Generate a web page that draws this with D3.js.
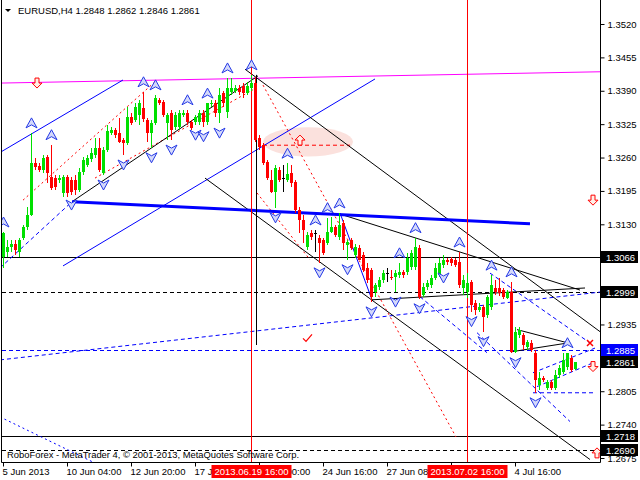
<!DOCTYPE html>
<html><head><meta charset="utf-8">
<script src="https://cdn.jsdelivr.net/npm/d3@7"></script>
<style>
body{margin:0;background:#fff}
svg{display:block}
text{font-family:"Liberation Sans",Arial,sans-serif;font-size:9.5px}
</style>
</head><body>
<svg id="c" width="640" height="480"></svg>
<script>
// ---------- data ----------
const symbolTitle = "EURUSD,H4  1.2848 1.2862 1.2846 1.2861";
const copyright = "RoboForex - MetaTrader 4, \u00A9 2001-2013, MetaQuotes Software Corp.";
const opens = [1.3066,1.3076,1.3086,1.3092,1.3076,1.3104,1.3125,1.3148,1.3249,1.3244,
1.3236,1.3261,1.3222,1.3220,1.3216,1.3191,1.3222,1.3216,1.3216,1.3197,
1.3232,1.3246,1.3257,1.3265,1.3279,1.3230,1.3275,1.3308,1.3314,1.3308,
1.3294,1.3288,1.3339,1.3333,1.3343,1.3356,1.3333,1.3308,1.3327,1.3372,
1.3368,1.3327,1.3347,1.3320,1.3320,1.3343,1.3347,1.3329,1.3329,1.3329,
1.3347,1.3329,1.3364,1.3366,1.3347,1.3386,1.3349,1.3388,1.3390,1.3395,
1.3399,1.3386,1.3395,1.3405,1.3298,1.3285,1.3251,1.3216,1.3193,1.3236,
1.3220,1.3216,1.3230,1.3212,1.3158,1.3139,1.3086,1.3113,1.3113,1.3104,
1.3100,1.3094,1.3115,1.3125,1.3105,1.3133,1.3090,1.3100,1.3070,1.3084,
1.3070,1.3045,1.3041,1.2998,1.3008,1.3022,1.3036,1.3028,1.3028,1.3031,
1.3037,1.3037,1.3047,1.3047,1.3084,1.2993,1.3008,1.3012,1.3026,1.3031,
1.3051,1.3061,1.3063,1.3061,1.3057,1.3006,1.2998,1.3018,1.2977,1.2963,
1.2969,1.2954,1.2969,1.3006,1.3006,1.3002,1.2987,1.2998,1.2882,1.2915,
1.2915,1.2891,1.2899,1.2880,1.2817,1.2831,1.2812,1.2823,1.2812,1.2837,
1.2843,1.2853,1.2870,1.2848];
const highs = [1.3115,1.3100,1.3100,1.3100,1.3104,1.3129,1.3164,1.3308,1.3259,1.3249,
1.3265,1.3265,1.3285,1.3226,1.3226,1.3226,1.3226,1.3222,1.3226,1.3240,
1.3261,1.3265,1.3279,1.3298,1.3298,1.3281,1.3323,1.3320,1.3318,1.3337,
1.3298,1.3358,1.3347,1.3366,1.3372,1.3388,1.3337,1.3333,1.3382,1.3376,
1.3372,1.3347,1.3353,1.3349,1.3353,1.3353,1.3353,1.3333,1.3343,1.3353,
1.3353,1.3366,1.3372,1.3372,1.3395,1.3390,1.3415,1.3415,1.3401,1.3401,
1.3405,1.3407,1.3421,1.3417,1.3304,1.3288,1.3255,1.3236,1.3246,1.3242,
1.3246,1.3249,1.3246,1.3216,1.3164,1.3148,1.3115,1.3119,1.3119,1.3109,
1.3104,1.3143,1.3145,1.3129,1.3152,1.3139,1.3100,1.3104,1.3092,1.3090,
1.3076,1.3055,1.3045,1.3016,1.3028,1.3041,1.3045,1.3041,1.3041,1.3055,
1.3041,1.3074,1.3080,1.3104,1.3090,1.3016,1.3022,1.3031,1.3055,1.3065,
1.3070,1.3065,1.3066,1.3065,1.3076,1.3031,1.3035,1.3022,1.2983,1.2977,
1.2973,1.2993,1.3031,1.3022,1.3026,1.3006,1.3002,1.3018,1.2930,1.2930,
1.2919,1.2905,1.2905,1.2886,1.2843,1.2835,1.2827,1.2827,1.2847,1.2857,
1.2880,1.2880,1.2876,1.2862];
const lows = [1.3045,1.3066,1.3076,1.3070,1.3066,1.3100,1.3119,1.3147,1.3236,1.3232,
1.3230,1.3210,1.3197,1.3197,1.3210,1.3183,1.3183,1.3187,1.3187,1.3193,
1.3226,1.3242,1.3251,1.3259,1.3232,1.3226,1.3271,1.3304,1.3298,1.3288,
1.3265,1.3285,1.3323,1.3329,1.3323,1.3329,1.3290,1.3279,1.3323,1.3362,
1.3339,1.3294,1.3294,1.3314,1.3314,1.3339,1.3323,1.3314,1.3323,1.3323,
1.3320,1.3323,1.3358,1.3339,1.3327,1.3358,1.3337,1.3382,1.3386,1.3382,
1.3376,1.3382,1.3390,1.3290,1.3275,1.3246,1.3216,1.3191,1.3162,1.3212,
1.3193,1.3212,1.3203,1.3152,1.3113,1.3094,1.3080,1.3100,1.3076,1.3055,
1.3070,1.3090,1.3113,1.3105,1.3100,1.3080,1.3061,1.3080,1.3065,1.3061,
1.3037,1.3016,1.2979,1.2989,1.3002,1.3016,1.3018,1.3022,1.2998,1.3026,
1.3026,1.3031,1.3041,1.3041,1.2985,1.2989,1.3002,1.3006,1.3022,1.3028,
1.3045,1.3051,1.3049,1.3047,1.3006,1.2993,1.2987,1.2960,1.2954,1.2960,
1.2921,1.2948,1.2963,1.2993,1.2991,1.2985,1.2985,1.2880,1.2880,1.2909,
1.2886,1.2886,1.2882,1.2802,1.2808,1.2823,1.2808,1.2808,1.2808,1.2831,
1.2839,1.2847,1.2843,1.2846];
const closes = [1.3113,1.3086,1.3092,1.3080,1.3100,1.3125,1.3148,1.3249,1.3242,1.3236,
1.3259,1.3230,1.3201,1.3203,1.3220,1.3222,1.3191,1.3193,1.3197,1.3232,
1.3255,1.3259,1.3269,1.3279,1.3236,1.3275,1.3312,1.3314,1.3304,1.3290,
1.3288,1.3339,1.3327,1.3358,1.3366,1.3335,1.3308,1.3327,1.3376,1.3366,
1.3343,1.3343,1.3314,1.3343,1.3347,1.3347,1.3329,1.3318,1.3339,1.3347,
1.3329,1.3366,1.3366,1.3347,1.3382,1.3366,1.3395,1.3395,1.3395,1.3388,
1.3386,1.3399,1.3405,1.3294,1.3281,1.3249,1.3220,1.3193,1.3240,1.3216,
1.3220,1.3228,1.3210,1.3158,1.3139,1.3119,1.3109,1.3105,1.3113,1.3094,
1.3074,1.3115,1.3125,1.3109,1.3129,1.3094,1.3096,1.3084,1.3086,1.3061,
1.3041,1.3022,1.2989,1.3012,1.3022,1.3035,1.3036,1.3026,1.3035,1.3037,
1.3031,1.3065,1.3074,1.3086,1.2989,1.3008,1.3016,1.3026,1.3045,1.3055,
1.3061,1.3057,1.3055,1.3051,1.3012,1.3022,1.3016,1.2973,1.2963,1.2969,
1.2950,1.2989,1.3012,1.2998,1.2996,1.2989,1.2998,1.2882,1.2921,1.2925,
1.2895,1.2901,1.2886,1.2827,1.2831,1.2827,1.2823,1.2812,1.2837,1.2851,
1.2866,1.2880,1.2847,1.2861];

// time axis labels (bar index -> visible label text; parts hidden by date boxes omitted)
const timeTickIdx = [0,16,32,48,64,80,96,112,128];
const timeTickLabels = ["5 Jun 2013","10 Jun 04:00","12 Jun 20:00","17 J","00:00","24 Jun 16:00","27 Jun 08","","4 Jul 16:00"];
// price axis
const priceTicks = [1.3520,1.3455,1.3390,1.3325,1.3260,1.3195,1.3130,1.2935,1.2805,1.2740,1.2675];
const blackLevelLabels = [1.3066,1.2999,1.2861,1.2718,1.2690];
const blueLevelLabels = [1.2885];
// vertical lines (bar index) with date labels
const vLineIdx = [62,116];
const vLineLabels = ["2013.06.19 16:00","2013.07.02 16:00"];
// horizontal levels
const hSolidBlack = [1.3066,1.2718];
const hDashBlack = [1.2999,1.2690];
const hDashBlue = [1.2885];
// trend lines [i1,p1,i2,p2]
const blackLines = [[17.25,1.3174,63.75,1.3419],[60.5,1.3432,149.25,1.2921],[50.5,1.3220,146.75,1.2672],
 [84.25,1.3150,144.25,1.3002],[92.25,1.2983,145.5,1.3006],[128.5,1.2925,141.25,1.2899],[127.25,1.2882,141.25,1.2899]];
const blackVertical = [[63.25,1.3421,1.2895]];
const magentaLine = [[-0.5,1.3405,149.25,1.3427]];
const blueThick = [[17.25,1.3174,131.75,1.3131]];
const blueThin = [[-0.5,1.3271,30,1.3411],[15,1.3049,93,1.3413],[84.25,1.3152,92.25,1.2983]];
const blueDashed = [[-0.75,1.3045,17.25,1.3174],[-0.75,1.2866,149.25,1.2998],[132.5,1.2802,148,1.2802],
 [104.25,1.2989,121,1.2880],[118.5,1.2919,141.75,1.2746],[121.75,1.3035,146.75,1.2899],
 [132.5,1.2841,148,1.2889],[133.5,1.2814,148,1.2862]];
const blueDotted = [[-0.75,1.2755,22.25,1.2668]];
const redDotted = [[5,1.3177,38.5,1.3411],[23,1.3220,62.5,1.3392],[65,1.3401,113.25,1.2716],[63.5,1.3191,76.75,1.3061]];
const redDashed = [[65,1.3284,86.75,1.3284]];
const ellipseBox = [65,1.3319,87.5,1.3262];
// fractal markers (bar indices)
const fractalUp = [0,7,12,35,38,46,51,56,62,71,78,81,84,99,103,114,122,127,141];
const fractalDown = [17,25,30,37,42,48,50,54,68,79,86,92,98,104,110,117,120,128,133];
// red signal arrows [index, price]
const redDownArrows = [[8.5,1.3405],[147.5,1.3177],[147.5,1.2853]];
const redUpArrows = [[74.25,1.3294],[148.5,1.2685]];

// ---------- drawing ----------
const svg = d3.select("#c");
const W=640,H=480, L=1.5, R=600.5, B=462.5;
const x = d3.scaleLinear().domain([0,143]).range([3,575]);
const y = d3.scaleLinear().domain([1.2675,1.3520]).range([458,24]);

svg.append("rect").attr("width",W).attr("height",H).attr("fill","#fff");
svg.append("defs").append("clipPath").attr("id","plot").append("rect")
  .attr("x",2).attr("y",0).attr("width",598).attr("height",462);
const g = svg.append("g").attr("clip-path","url(#plot)");

function seg(arr, color, width, dash){
  g.selectAll(null).data(arr).enter().append("line")
   .attr("x1",d=>x(d[0])).attr("y1",d=>y(d[1])).attr("x2",d=>x(d[2])).attr("y2",d=>y(d[3]))
   .attr("stroke",color).attr("stroke-width",width).attr("stroke-dasharray",dash||null);
}

// ellipse
{
  const [i1,p1,i2,p2]=ellipseBox;
  g.append("ellipse").attr("cx",(x(i1)+x(i2))/2).attr("cy",(y(p1)+y(p2))/2)
   .attr("rx",(x(i2)-x(i1))/2).attr("ry",(y(p2)-y(p1))/2).attr("fill","#fbe1dd");
}
// horizontal levels
const hl=(arr,color,dash)=>g.selectAll(null).data(arr).enter().append("line")
  .attr("x1",2).attr("x2",600).attr("y1",d=>Math.round(y(d))+0.5).attr("y2",d=>Math.round(y(d))+0.5)
  .attr("stroke",color).attr("stroke-width",1).attr("stroke-dasharray",dash||null);
hl(hSolidBlack,"#000");
hl(hDashBlack,"#000","4,3");
hl(hDashBlue,"#0000ff","4,3");

seg(magentaLine,"#ff00ff",1);
seg(redDotted,"#ff0000",1,"2,3");
seg(redDashed,"#ff0000",1,"4,3");
seg(blueDashed,"#0000ff",1,"4,3");
seg(blueDotted,"#0000ff",1,"2,3");
seg(blueThin,"#0000ff",1);
seg(blackLines,"#000",1);
seg(blueThick,"#0000ff",3);
// vertical lines
g.selectAll(null).data(vLineIdx).enter().append("line")
 .attr("x1",d=>x(d)+0.5).attr("x2",d=>x(d)+0.5).attr("y1",0).attr("y2",462)
 .attr("stroke","#ff0000").attr("stroke-width",1);
g.selectAll(null).data(blackVertical).enter().append("line")
 .attr("x1",d=>x(d[0])+0.5).attr("x2",d=>x(d[0])+0.5).attr("y1",d=>y(d[1])).attr("y2",d=>y(d[2]))
 .attr("stroke","#000").attr("stroke-width",1);

// candles
const bars = opens.map((o,i)=>({i,o,h:highs[i],l:lows[i],c:closes[i]}));
const col = d=> d.c>d.o ? "#00e000" : (d.c<d.o ? "#ff0000" : "#000");
const cg = g.append("g").attr("shape-rendering","crispEdges");
cg.selectAll("line.w").data(bars).enter().append("line")
  .attr("x1",d=>Math.round(x(d.i))+0.5).attr("x2",d=>Math.round(x(d.i))+0.5)
  .attr("y1",d=>y(d.h)).attr("y2",d=>y(d.l)).attr("stroke",col).attr("stroke-width",1);
cg.selectAll("rect.b").data(bars).enter().append("rect")
  .attr("x",d=>Math.round(x(d.i))-1).attr("width",3)
  .attr("y",d=>y(Math.max(d.o,d.c))).attr("height",d=>Math.max(1,Math.abs(y(d.o)-y(d.c))))
  .attr("fill",col);

// fractals
const upPath="M0,-5 L5.5,5 L0,2 L-5.5,5 Z", dnPath="M0,5 L5.5,-5 L0,-2 L-5.5,-5 Z";
g.selectAll(null).data(fractalUp).enter().append("path")
 .attr("d",upPath).attr("transform",i=>`translate(${x(i)+0.5},${y(highs[i])-10})`)
 .attr("fill","#d4d9fa").attr("stroke","#2438e6").attr("stroke-width",1);
g.selectAll(null).data(fractalDown).enter().append("path")
 .attr("d",dnPath).attr("transform",i=>`translate(${x(i)+0.5},${y(lows[i])+10})`)
 .attr("fill","#d4d9fa").attr("stroke","#2438e6").attr("stroke-width",1);

// red arrows
const rDown="M-2,-5 L2,-5 L2,0 L5,0 L0,5 L-5,0 L-2,0 Z";
const rUp="M-2,5 L2,5 L2,0 L5,0 L0,-5 L-5,0 L-2,0 Z";
g.selectAll(null).data(redDownArrows).enter().append("path").attr("d",rDown)
 .attr("transform",d=>`translate(${x(d[0])},${y(d[1])})`).attr("fill","#fff0e8").attr("stroke","#ff0000");
g.selectAll(null).data(redUpArrows).enter().append("path").attr("d",rUp)
 .attr("transform",d=>`translate(${x(d[0])},${y(d[1])})`).attr("fill","#fff0e8").attr("stroke","#ff0000");

// frame + axes
svg.append("line").attr("x1",L).attr("x2",L).attr("y1",0).attr("y2",B).attr("stroke","#000");
const ya = svg.append("g").attr("transform",`translate(${R},0)`)
  .call(d3.axisRight(y).tickValues(priceTicks).tickSize(4).tickPadding(3).tickFormat(d3.format(".4f")));
ya.select(".domain").attr("d",`M0,0V${B}`).attr("stroke","#000");
ya.selectAll("text").attr("font-family","Liberation Sans").attr("font-size",9.5).attr("fill","#000");
const xa = svg.append("g").attr("transform",`translate(0,${B})`)
  .call(d3.axisBottom(x).tickValues(timeTickIdx).tickSize(4).tickFormat((d,k)=>timeTickLabels[k]));
xa.select(".domain").attr("d",`M${L},0H${R}`).attr("stroke","#000");
xa.selectAll("text").attr("text-anchor","start").attr("dx",-1).attr("y",6).attr("font-family","Liberation Sans").attr("font-size",9.5)
  .filter((d,k)=>timeTickLabels[k]==="00:00").attr("dx",27);
xa.selectAll("text").filter((d,k)=>timeTickLabels[k]==="").remove();

// level label boxes
function levelBox(arr,bg){
  const gg=svg.selectAll(null).data(arr).enter().append("g").attr("transform",d=>`translate(601,${Math.round(y(d))})`);
  gg.append("rect").attr("x",0).attr("y",-6).attr("width",37).attr("height",12).attr("fill",bg);
  gg.append("text").attr("x",5).attr("y",3.5).attr("fill","#fff").text(d=>d.toFixed(4));
}
levelBox(blackLevelLabels,"#000");
levelBox(blueLevelLabels,"#0000ff");

// vertical line date boxes
vLineIdx.forEach((d,k)=>{
  const cx=x(d)+0.5;
  svg.append("rect").attr("x",cx-40).attr("y",465).attr("width",80).attr("height",13).attr("fill","#ff0000");
  svg.append("text").attr("x",cx).attr("y",475).attr("text-anchor","middle").attr("fill","#fff").text(vLineLabels[k]);
});

// title & copyright
svg.append("path").attr("d","M5,9 L11,9 L8,12 Z").attr("fill","#000");
svg.append("text").attr("x",18).attr("y",14).attr("fill","#000").text(symbolTitle);
svg.append("text").attr("x",7).attr("y",458).attr("fill","#000").attr("textLength",292).attr("lengthAdjust","spacingAndGlyphs").text(copyright);
// marks
svg.append("path").attr("d",`M${x(76)-4},${y(1.2908)} l3,3 l6,-7`).attr("fill","none").attr("stroke","#ff0000").attr("stroke-width",1.2);
svg.append("path").attr("d",`M${x(146.75)-3},${y(1.2899)-3} l6,6 M${x(146.75)+3},${y(1.2899)-3} l-6,6`).attr("stroke","#ff0000").attr("stroke-width",1.5);
</script>
</body></html>
